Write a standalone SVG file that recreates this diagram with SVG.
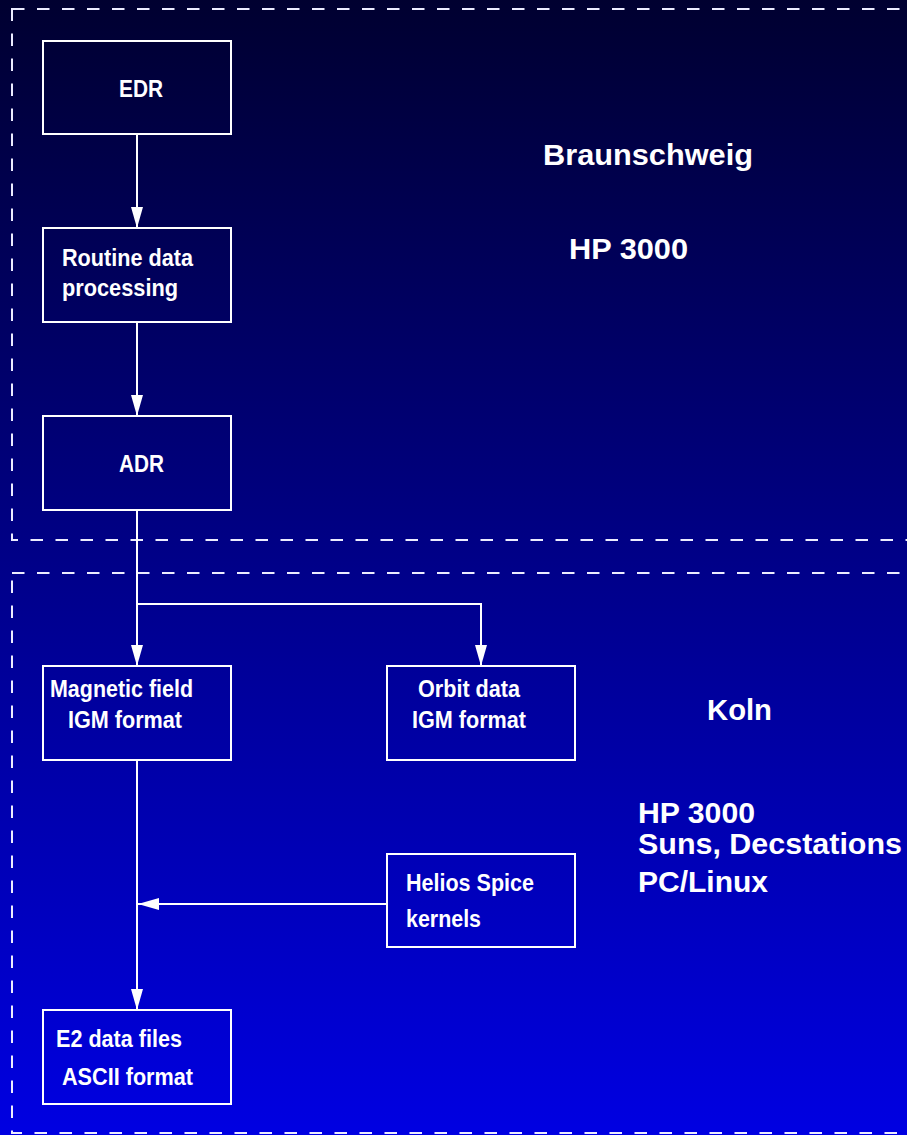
<svg xmlns="http://www.w3.org/2000/svg" width="907" height="1135" viewBox="0 0 907 1135">
<defs>
<linearGradient id="bg" x1="0" y1="0" x2="0" y2="1">
<stop offset="0" stop-color="#000030"/>
<stop offset="1" stop-color="#0000e2"/>
</linearGradient>
<marker id="ah" markerWidth="21" markerHeight="12" refX="21" refY="6" orient="auto" markerUnits="userSpaceOnUse">
<path d="M0,0 L21,6 L0,12 Z" fill="#ffffff"/>
</marker>
<style>
.region{fill:none;stroke:#ececff;stroke-width:2;stroke-dasharray:12.5 12.5}
.box{fill:none;stroke:#ffffff;stroke-width:2}
.conn{fill:none;stroke:#ffffff;stroke-width:2}
.bt{font-family:"Liberation Sans",Arial,sans-serif;font-weight:bold;font-size:24px;fill:#ffffff}
.lt{font-family:"Liberation Sans",Arial,sans-serif;font-weight:bold;font-size:30px;fill:#ffffff}
</style>
</defs>
<rect x="0" y="0" width="907" height="1135" fill="url(#bg)"/>
<g id="region-braunschweig">
<rect class="region" x="12" y="9" width="1000" height="531"/>
<text class="lt" x="543" y="165" textLength="210" lengthAdjust="spacingAndGlyphs">Braunschweig</text>
<text class="lt" x="569" y="259" textLength="119" lengthAdjust="spacingAndGlyphs">HP 3000</text>
</g>
<g id="region-koln">
<rect class="region" x="12" y="573" width="1000" height="560"/>
<text class="lt" x="707" y="720" font-size="27" textLength="65" lengthAdjust="spacingAndGlyphs">Koln</text>
<text class="lt" x="638" y="823" textLength="117" lengthAdjust="spacingAndGlyphs">HP 3000</text>
<text class="lt" x="638" y="854" textLength="264" lengthAdjust="spacingAndGlyphs">Suns, Decstations</text>
<text class="lt" x="638" y="892" textLength="130" lengthAdjust="spacingAndGlyphs">PC/Linux</text>
</g>
<g id="connectors">
<path class="conn" d="M137,134 L137,228" marker-end="url(#ah)"/>
<path class="conn" d="M137,322 L137,416" marker-end="url(#ah)"/>
<path class="conn" d="M137,510 L137,666" marker-end="url(#ah)"/>
<path class="conn" d="M137,604 L481,604 L481,666" marker-end="url(#ah)"/>
<path class="conn" d="M137,760 L137,1010" marker-end="url(#ah)"/>
<path class="conn" d="M387,904 L138,904" marker-end="url(#ah)"/>
</g>
<g id="edr">
<rect class="box" x="43" y="41" width="188" height="93"/>
<text class="bt" x="119" y="97" textLength="44" lengthAdjust="spacingAndGlyphs">EDR</text>
</g>
<g id="routine">
<rect class="box" x="43" y="228" width="188" height="94"/>
<text class="bt" x="62" y="266" textLength="131" lengthAdjust="spacingAndGlyphs">Routine data</text>
<text class="bt" x="62" y="296" textLength="116" lengthAdjust="spacingAndGlyphs">processing</text>
</g>
<g id="adr">
<rect class="box" x="43" y="416" width="188" height="94"/>
<text class="bt" x="119" y="472" textLength="45" lengthAdjust="spacingAndGlyphs">ADR</text>
</g>
<g id="magnetic">
<rect class="box" x="43" y="666" width="188" height="94"/>
<text class="bt" x="50" y="697" textLength="143" lengthAdjust="spacingAndGlyphs">Magnetic field</text>
<text class="bt" x="68" y="728" textLength="114" lengthAdjust="spacingAndGlyphs">IGM format</text>
</g>
<g id="orbit">
<rect class="box" x="387" y="666" width="188" height="94"/>
<text class="bt" x="418" y="697" textLength="102" lengthAdjust="spacingAndGlyphs">Orbit data</text>
<text class="bt" x="412" y="728" textLength="114" lengthAdjust="spacingAndGlyphs">IGM format</text>
</g>
<g id="helios">
<rect class="box" x="387" y="854" width="188" height="93"/>
<text class="bt" x="406" y="891" textLength="128" lengthAdjust="spacingAndGlyphs">Helios Spice</text>
<text class="bt" x="406" y="927" textLength="75" lengthAdjust="spacingAndGlyphs">kernels</text>
</g>
<g id="e2">
<rect class="box" x="43" y="1010" width="188" height="94"/>
<text class="bt" x="56" y="1047" textLength="126" lengthAdjust="spacingAndGlyphs">E2 data files</text>
<text class="bt" x="62" y="1085" textLength="131" lengthAdjust="spacingAndGlyphs">ASCII format</text>
</g>
</svg>
